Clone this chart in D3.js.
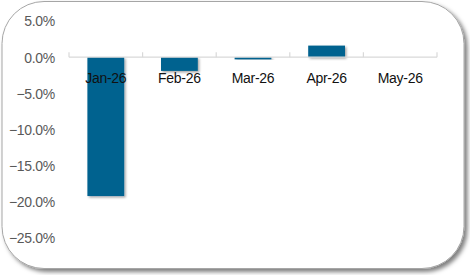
<!DOCTYPE html>
<html>
<head>
<meta charset="utf-8">
<script src="https://cdn.jsdelivr.net/npm/d3@7"></script>
<style>
  body { margin: 0; background: #fff; }
  text { font-family: "Liberation Sans", Arial, sans-serif; }
</style>
</head>
<body>
<div id="chart"></div>
<script>
var categories = ['Jan-26', 'Feb-26', 'Mar-26', 'Apr-26', 'May-26']
var values = [-19.2, -1.9, -0.3, 1.6, 0]
var yTicks = [5, 0, -5, -10, -15, -20, -25]

const W = 470, H = 275

var svg = d3.select('#chart').append('svg')
    .attr('width', W)
    .attr('height', H)

var defs = svg.append('defs')
var sh = defs.append('filter').attr('id', 'frameShadow')
    .attr('x', '-5%').attr('y', '-5%').attr('width', '115%').attr('height', '115%')
sh.append('feDropShadow').attr('dx', 3).attr('dy', 3).attr('stdDeviation', 2)
    .attr('flood-color', '#000').attr('flood-opacity', 0.5)

var bsh = defs.append('filter').attr('id', 'barShadow')
    .attr('x', '-20%').attr('y', '-20%').attr('width', '150%').attr('height', '150%')
bsh.append('feDropShadow').attr('dx', 1.5).attr('dy', 1.5).attr('stdDeviation', 1.2)
    .attr('flood-color', '#000').attr('flood-opacity', 0.35)

// frame
svg.append('rect')
    .attr('x', 2).attr('y', 1.5)
    .attr('width', 462).attr('height', 267)
    .attr('rx', 42).attr('ry', 42)
    .attr('fill', '#fff')
    .attr('stroke', '#a6a6a6')
    .attr('stroke-width', 1)
    .attr('filter', 'url(#frameShadow)')

var x = d3.scaleBand()
    .domain(categories)
    .range([69, 437])
    .paddingInner(0.5)
    .paddingOuter(0.25)

var y = d3.scaleLinear()
    .domain([-25, 5])
    .range([238, 21])

// y labels
var yAxis = d3.axisLeft(y)
    .tickValues(yTicks)
    .tickSize(0)
    .tickPadding(0)
    .tickFormat(d => d3.format('.1f')(d) + '%')

var gy = svg.append('g')
    .attr('transform', 'translate(55,0)')
    .call(yAxis)
gy.select('.domain').remove()
gy.selectAll('text')
    .attr('fill', '#595959')
    .style('font-size', '14px')
    .style('letter-spacing', '-0.3px')
    .attr('dy', '0.35em')

// bars
svg.append('g').selectAll('rect')
    .data(values)
    .enter()
    .append('rect')
    .attr('x', (d, i) => x(categories[i]))
    .attr('width', x.bandwidth())
    .attr('y', d => y(Math.max(0, d)))
    .attr('height', d => Math.abs(y(d) - y(0)))
    .attr('fill', '#05628f')
    .attr('filter', 'url(#barShadow)')

// zero line with category ticks
var xAxis = d3.axisBottom(x)
    .tickSize(0)
    .tickFormat('')

var gx = svg.append('g')
    .attr('transform', 'translate(0,' + y(0) + ')')
    .call(xAxis)
gx.select('.domain')
    .attr('d', 'M69,0H437')
    .attr('stroke', '#d9d9d9')
    .attr('stroke-width', 1.2)

var bounds = d3.range(categories.length + 1).map(i => 69 + i * (368 / categories.length))
gx.selectAll('.bound')
    .data(bounds)
    .enter()
    .append('line')
    .attr('x1', d => d).attr('x2', d => d)
    .attr('y1', -5).attr('y2', 0)
    .attr('stroke', '#d9d9d9')
    .attr('stroke-width', 1.2)

// category labels
svg.append('g').selectAll('text')
    .data(categories)
    .enter()
    .append('text')
    .attr('x', d => x(d) + x.bandwidth() / 2)
    .attr('y', 83)
    .attr('text-anchor', 'middle')
    .attr('fill', '#111')
    .style('font-size', '14px')
    .style('letter-spacing', '-0.3px')
    .text(d => d)
</script>
</body>
</html>
